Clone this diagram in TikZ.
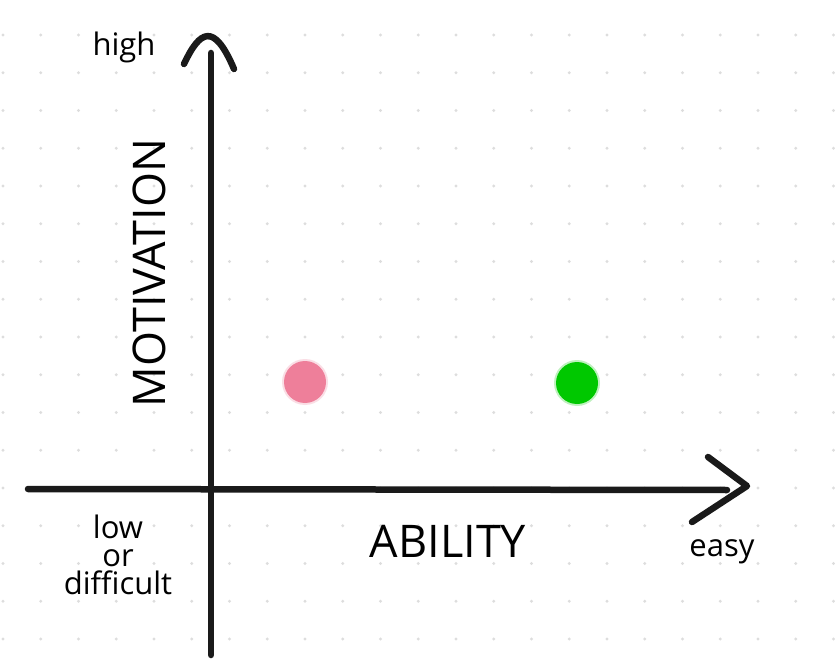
\documentclass[tikz,border=0pt]{standalone}
\usepackage{fontspec}
\setmainfont{Open Sans}
\definecolor{gridgray}{HTML}{DDDDDD}
\definecolor{ink}{HTML}{1A1A1A}
\definecolor{pinkdot}{HTML}{EE7F9A}
\definecolor{greendot}{HTML}{00C800}
\tikzset{
  axisline/.style={draw=ink, line width=6.5pt, line cap=round, line join=round},
  smalllabel/.style={font=\fontsize{31}{28}\selectfont, align=center, text=black, inner sep=0pt},
  biglabel/.style={font=\fontsize{45}{45}\selectfont, text=black, inner sep=0pt},
  dotmark/.style={circle, minimum size=42pt, inner sep=0pt},
  halo/.style={circle, minimum size=46pt, inner sep=0pt, opacity=0.25},
}
\begin{document}
\begin{tikzpicture}[x=1pt,y=1pt]
\useasboundingbox (0,0) rectangle (835,-660);
\fill[white] (0,0) rectangle (835,-660);
% dot grid
\foreach \i in {0,...,22} {
  \foreach \j in {0,...,17} {
    \fill[gridgray] ({3+37.75*\i},{-35-37.75*\j}) circle (1.6);
  }
}
% coordinates
\coordinate (ytop) at (211,-53);
\coordinate (ybot) at (211,-655);
\coordinate (xleft) at (28,-489);
\coordinate (xright) at (727,-490);
\coordinate (uparmL) at (184,-64);
\coordinate (upapex) at (208,-24);
\coordinate (uparmR) at (234,-69);
\coordinate (rtarmT) at (708,-457);
\coordinate (rtapex) at (747,-486);
\coordinate (rtarmB) at (692,-522);
% axes
\draw[axisline] (ybot) -- (ytop);
\draw[axisline] (xleft) -- (xright);
\draw[axisline] (uparmL) .. controls (200,-30) and (214,-22) .. (uparmR);
\draw[axisline] (rtarmT) -- (rtapex) -- (rtarmB);
% dots
\node[halo, fill=pinkdot] (pinkhalo) at (305,-382) {};
\node[halo, fill=greendot] (greenhalo) at (577,-383) {};
\node[dotmark, fill=pinkdot] (pink) at (305,-382) {};
\node[dotmark, fill=greendot] (green) at (577,-383) {};
% labels
\node[smalllabel] (high) at (124,-47) {high};
\node[biglabel, rotate=90] (motivation) at (149,-273) {MOTIVATION};
\node[biglabel] (ability) at (448,-541) {ABILITY};
\node[smalllabel] (low) at (118,-555) {low\\or\\difficult};
\node[smalllabel] (easy) at (722,-552) {easy};
\end{tikzpicture}
\end{document}
